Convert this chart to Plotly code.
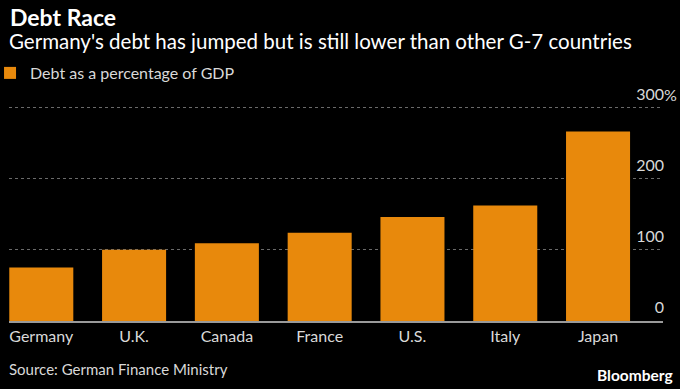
import plotly.graph_objects as go

countries = ["Germany", "U.K.", "Canada", "France", "U.S.", "Italy", "Japan"]
debt_pct = [75, 100, 109, 124, 146, 162, 266]
tick_vals = [0, 100, 200, 300]
tick_text = ["0", "100", "200", "300"]

FONT = "Lato"
ORANGE = "#E8890C"

PLOT_TOP = 83
PLOT_BOTTOM = 321
PLOT_H = PLOT_BOTTOM - PLOT_TOP
Y_TOP = (321 - 83) / ((321 - 107.3) / 300)


def py(pix):
    return (PLOT_BOTTOM - pix) / PLOT_H


fig = go.Figure()
fig.add_trace(go.Bar(
    x=countries, y=debt_pct, name="Debt as a percentage of GDP",
    marker=dict(color=ORANGE, line=dict(width=0)), width=0.69,
    hovertemplate="%{x}: %{y}%<extra></extra>",
))

fig.update_layout(
    width=680, height=389,
    paper_bgcolor="#000000", plot_bgcolor="#000000",
    margin=dict(l=9, r=17, t=PLOT_TOP, b=389 - PLOT_BOTTOM, autoexpand=False),
    font=dict(family=FONT, color="#d9d9d9"),
    showlegend=True,
    legend=dict(orientation="h", xref="paper", yref="paper",
                x=-0.029, y=py(73), xanchor="left", yanchor="middle",
                font=dict(size=16, color="#d9d9d9", family=FONT),
                bgcolor="rgba(0,0,0,0)", itemwidth=30),
    xaxis=dict(range=[-0.348, 6.70], showgrid=False, zeroline=False,
               showline=True, linecolor="#9a9a9a", linewidth=1.5,
               ticks="", tickfont=dict(size=16, color="#d9d9d9", family=FONT),
               fixedrange=True),
    yaxis=dict(range=[0, Y_TOP], side="right", tickvals=tick_vals, ticktext=tick_text,
               ticklabelposition="inside top", ticklabelstandoff=-4, ticklabelshift=-2,
               showgrid=True, gridcolor="#6a6a6a",
               griddash="dot", gridwidth=1, zeroline=False, showline=False,
               tickfont=dict(size=16, color="#d9d9d9", family=FONT), fixedrange=True),
    annotations=[
        dict(text="<b>Debt Race</b>", xref="paper", yref="paper", x=0, y=py(17),
             xanchor="left", yanchor="middle", xshift=-1, showarrow=False,
             font=dict(size=23, color="#ffffff", family=FONT)),
        dict(text="Germany's debt has jumped but is still lower than other G-7 countries",
             xref="paper", yref="paper", x=0, y=py(41),
             xanchor="left", yanchor="middle", xshift=-2, showarrow=False,
             font=dict(size=20.5, color="#ffffff", family=FONT)),
        dict(text="%", xref="paper", yref="y", x=1, y=300, xanchor="left", yanchor="middle",
             xshift=-1, yshift=13, showarrow=False,
             font=dict(size=16, color="#d9d9d9", family=FONT)),
        dict(text="Source: German Finance Ministry", xref="paper", yref="paper",
             x=0, y=py(369), xanchor="left", yanchor="middle", xshift=-2,
             showarrow=False, font=dict(size=15, color="#d9d9d9", family=FONT)),
        dict(text="<b>Bloomberg</b>", xref="paper", yref="paper",
             x=1, y=py(375), xanchor="right", yanchor="middle", xshift=12,
             showarrow=False, font=dict(size=15.5, color="#ffffff", family=FONT)),
    ],
)

fig.write_html(
    "out.html",
    config={"displayModeBar": False},
    post_script="document.body.style.margin='0';document.body.style.background='#000';",
)
